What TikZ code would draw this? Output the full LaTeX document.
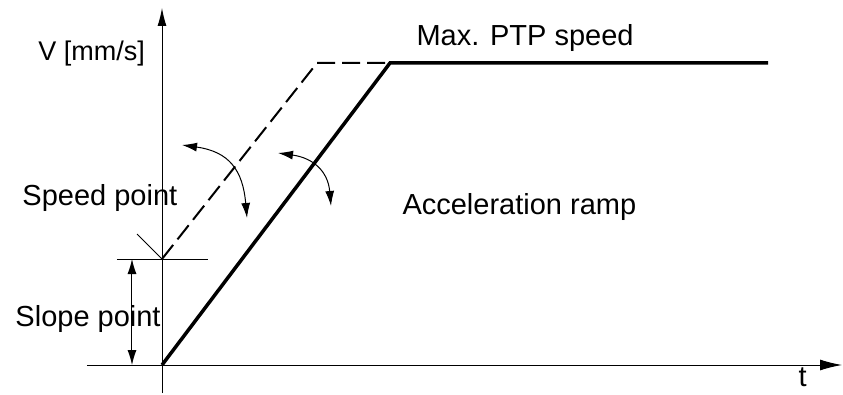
\documentclass[tikz,border=0pt]{standalone}
\usepackage{fontspec}
\setmainfont{Liberation Sans}
\usetikzlibrary{arrows.meta}
\tikzset{lbl/.style={font=\fontsize{29}{34}\selectfont,inner sep=0pt,anchor=base west},
 both/.style={{Latex[length=15pt,width=9pt]}-{Latex[length=15pt,width=9pt]}}}

\begin{document}
\begin{tikzpicture}[x=1pt,y=1pt,line width=1pt]
\useasboundingbox(-162,-29)rectangle(681,365);
% axes
\coordinate(O)at(0,0);\coordinate(Vbot)at(0,-28);\coordinate(Vtop)at(0,357);\coordinate(Tbeg)at(-75,0);\coordinate(Tend)at(680,0);
\draw[-{Latex[length=18pt,width=9pt]}](Vbot)--(Vtop);\draw[-{Latex[length=22pt,width=11pt]}](Tbeg)--(Tend);
\node[lbl,font=\fontsize{27}{32}\selectfont](vlab)at(-124,304){V [mm/s]};\node[lbl](tlab)at(636,-21){t};
% ramps
\coordinate(S)at(0,106);\coordinate(Sc)at(155,302);\coordinate(Rc)at(228,302);\coordinate(Rend)at(606,302);
\draw[line width=3.5pt,line join=miter](O)--(Rc)--(Rend);
\draw[line width=2pt,dash pattern=on 18pt off 7pt](S)--(Sc)--(Rc);
\node[lbl](maxlab)at(254,319){Max. PTP speed};\node[lbl](acclab)at(240,150){Acceleration ramp};
% speed and slope point
\draw(-45,106)--(46,106);\draw(-25,131)--(S);\draw[both](-30,106)--(-30,0);
\node[lbl](splab)at(-140,159){Speed point};\node[lbl](sllab)at(-147,39){Slope point};
% turning arrows
\coordinate(a1)at(20,220);\coordinate(b1)at(85,147);\coordinate(a2)at(116,212);\coordinate(b2)at(169,159);
\draw[both](a1)to[out=-8,in=95,looseness=1.25](b1);
\draw[both](a2)to[out=-8,in=95,looseness=1.2](b2);
\end{tikzpicture}
\end{document}
